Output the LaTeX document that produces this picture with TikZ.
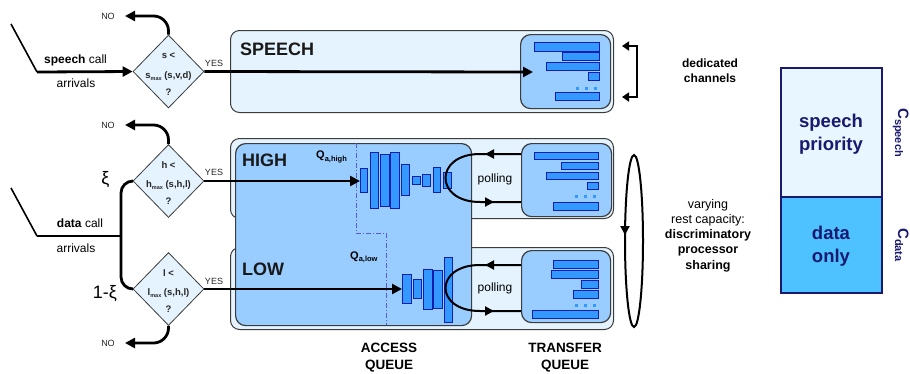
\documentclass[tikz,border=0pt]{standalone}
\usepackage{fontspec}
\setmainfont{Liberation Sans}
\usetikzlibrary{shapes.geometric,arrows.meta}
\definecolor{lightbg}{RGB}{228,243,253}
\definecolor{midblue}{RGB}{153,204,255}
\definecolor{barfill}{RGB}{51,153,255}
\definecolor{baredge}{RGB}{20,30,170}
\definecolor{captop}{RGB}{232,246,255}
\definecolor{capbot}{RGB}{77,194,255}
\definecolor{navy}{RGB}{25,25,112}
\definecolor{dashblue}{RGB}{90,90,220}
\definecolor{edgegray}{RGB}{60,60,60}
\newcommand\fsz[1]{\fontsize{#1}{#1}\selectfont}
\begin{document}
\begin{tikzpicture}[x=1pt,y=-1pt,
  region/.style={draw=edgegray, line width=1pt, fill=lightbg, rounded corners=9pt, inner sep=0pt, anchor=north west},
  tqbox/.style={draw=edgegray, line width=1.2pt, fill=midblue, rounded corners=10pt, inner sep=0pt, anchor=north west},
  dia/.style={diamond, draw=edgegray, line width=0.8pt, fill=lightbg, minimum width=71pt, minimum height=73pt, inner sep=0pt},
  bigarrow/.style={line width=2.8pt, -{Triangle[length=10pt,width=10pt]}},
  smallarrow/.style={line width=2.4pt, -{Triangle[length=7pt,width=9pt]}},
  feed/.style={line width=1.6pt},
  flow/.style={line width=2.8pt},
  polline/.style={line width=2pt},
  polarrow/.style={line width=2pt, -{Triangle[length=9pt,width=9pt]}},
  qbar/.style={draw=baredge, line width=0.8pt, fill=barfill},
  qdot/.style={fill=barfill},
  lbl/.style={inner sep=0pt, font=\fsz{9}, text=black!85},
  dtxt/.style={inner sep=0pt, font=\bfseries\fsz{9.5}, text=black!85},
  title/.style={inner sep=0pt, anchor=west, font=\bfseries\fsz{18}, text=black!90},
  captxt/.style={inner sep=0pt, align=center, text=navy, font=\bfseries\fontsize{18.5}{23}\selectfont},
  capbox/.style={draw=navy, line width=1.4pt}
]
\useasboundingbox (0,0) rectangle (910,373);

% ---------- regions ----------
\node[region, minimum width=383pt, minimum height=80pt] (hreg) at (230,138) {};
\node[region, minimum width=383pt, minimum height=82pt] (lreg) at (230,247) {};
\node[region, minimum width=383pt, minimum height=82pt] (sreg) at (230,30) {};
\node[tqbox, minimum width=236pt, minimum height=182pt] (acc) at (235,143) {};
\node[tqbox, minimum width=90pt, minimum height=74pt] (tqs) at (520,34) {};
\node[tqbox, minimum width=90pt, minimum height=73pt] (tqh) at (521,143) {};
\node[tqbox, minimum width=89pt, minimum height=72pt] (tql) at (521,250) {};

\node[title] (tspeech) at (240,49) {SPEECH};
\node[title] (thigh) at (242,160) {HIGH};
\node[title] (tlow) at (242,269) {LOW};

% dash-dot separation
\draw[dashblue, line width=1pt, dash pattern=on 5pt off 2pt on 1pt off 2pt] (356,143) -- (356,233) -- (386,233) -- (386,325);
\node[inner sep=0pt, anchor=west, font=\bfseries\fsz{11}] (qah) at (316,157) {Q\raisebox{-0.4ex}{\fsz{7.5}a,high}};
\node[inner sep=0pt, anchor=west, font=\bfseries\fsz{11}] (qal) at (350,257) {Q\raisebox{-0.4ex}{\fsz{7.5}a,low}};

% ---------- transfer queue bars ----------
\draw[qbar] (534,42) rectangle (599,51);
\draw[qbar] (562,52) rectangle (599,60);
\draw[qbar] (546,62) rectangle (599,70);
\draw[qbar] (588,72) rectangle (599,80);
\foreach \x in {576,585,594} \fill[qdot] (\x,86.5) rectangle ++(3,3);
\draw[qbar] (555,92) rectangle (599,100);

\draw[qbar] (534,152) rectangle (598,159);
\draw[qbar] (561,162) rectangle (598,169);
\draw[qbar] (546,172) rectangle (598,179);
\draw[qbar] (587,182) rectangle (598,189);
\foreach \x in {575,584,593} \fill[qdot] (\x,194.5) rectangle ++(3,3);
\draw[qbar] (553,202) rectangle (598,210);

\draw[qbar] (553,260) rectangle (598,268);
\draw[qbar] (551,270) rectangle (598,278);
\draw[qbar] (581,280) rectangle (598,288);
\draw[qbar] (573,290) rectangle (598,298);
\foreach \x in {575,584,593} \fill[qdot] (\x,303.5) rectangle ++(3,3);
\draw[qbar] (532,310) rectangle (598,318);

% ---------- access queue bars ----------
\draw[qbar] (360,168) rectangle (367,192);
\draw[qbar] (370.5,152) rectangle (378.5,208);
\draw[qbar] (380.5,154) rectangle (389,206);
\draw[qbar] (390.5,152) rectangle (399,208);
\draw[qbar] (401.5,164) rectangle (409.5,195);
\draw[qbar] (412,176) rectangle (420,184);
\draw[qbar] (422,174) rectangle (430.5,186);
\draw[qbar] (433,167) rectangle (440.5,192);
\draw[qbar] (443,172) rectangle (451.5,188);

\draw[qbar] (402,274) rectangle (411,303);
\draw[qbar] (413,279) rectangle (421,298);
\draw[qbar] (423,269) rectangle (432,309);
\draw[qbar] (433,270) rectangle (442,308);
\draw[qbar] (444,257) rectangle (452,322);

\coordinate (hq) at (360,181);
\coordinate (lq) at (402,289);
\coordinate (sq) at (533,72);

% ---------- polling loops ----------
\draw[polline] (tqh.west |- 0,154) -- (480,154) .. controls (434,154) and (434,202) .. (480,202) -- (tqh.west |- 0,202);
\draw[polarrow] (500,154) -- (485,154);
\draw[polarrow] (480,202) -- (494,202);
\node[inner sep=0pt, font=\fsz{12}] (polh) at (495,179) {polling};

\draw[polline] (tql.west |- 0,265) -- (480,265) .. controls (434,265) and (434,311) .. (480,311) -- (tql.west |- 0,311);
\draw[polarrow] (500,265) -- (485,265);
\draw[polarrow] (480,311) -- (494,311);
\node[inner sep=0pt, font=\fsz{12}] (poll) at (495,288) {polling};

\node[inner sep=0pt, align=center, font=\bfseries\fontsize{13.5}{17}\selectfont] (accl) at (389,358) {ACCESS\\QUEUE};
\node[inner sep=0pt, align=center, font=\bfseries\fontsize{13.5}{17}\selectfont] (tqlbl) at (565,358) {TRANSFER\\QUEUE};

% ---------- diamonds ----------
\node[dia] (sd) at (168.5,71.5) {};
\node[dia] (hd) at (168.5,181) {};
\node[dia] (ld) at (168.5,289) {};

\node[dtxt] (sd1) at (168.5,56) {s <};
\node[dtxt] (sd2) at (168.5,76) {s\raisebox{-0.35ex}{\fsz{5.5}max} (s,v,d)};
\node[dtxt] (sd3) at (168.5,92) {?};
\node[dtxt] (hd1) at (168.5,165) {h <};
\node[dtxt] (hd2) at (168.5,185) {h\raisebox{-0.35ex}{\fsz{5.5}max} (s,h,l)};
\node[dtxt] (hd3) at (168.5,201) {?};
\node[dtxt] (ld1) at (168.5,273) {l <};
\node[dtxt] (ld2) at (168.5,293) {l\raisebox{-0.35ex}{\fsz{5.5}max} (s,h,l)};
\node[dtxt] (ld3) at (168.5,309) {?};

\node[lbl] (yes1) at (214,63) {YES};
\node[lbl] (yes2) at (214,172) {YES};
\node[lbl] (yes3) at (214,281) {YES};

% NO branches
\coordinate (sno) at (125,16);
\coordinate (hno) at (125,125);
\coordinate (lno) at (125,343);
\node[lbl] (no1) at (108,16) {NO};
\node[lbl] (no2) at (108,125) {NO};
\node[lbl] (no3) at (108,343) {NO};
\draw[bigarrow, rounded corners=15pt] (sd.north) |- (sno);
\draw[bigarrow, rounded corners=15pt] (hd.north) |- (hno);
\draw[bigarrow, rounded corners=15pt] (ld.south) |- (lno);

% YES flows
\draw[bigarrow] (sd.east) -- (sq);
\draw[bigarrow] (hd.east) -- (hq);
\draw[bigarrow] (ld.east) -- (lq);

% arrivals
\coordinate (s0) at (11,24);
\coordinate (s1) at (37,72);
\draw[feed] (s0) -- (s1);
\draw[bigarrow] (s1) -- (sd.west);
\node[inner sep=0pt, font=\fsz{12}] (spt) at (75.5,60) {\textbf{speech} call};
\node[inner sep=0pt, font=\fsz{12}] (spa) at (76,83) {arrivals};

\coordinate (d0) at (11,188);
\coordinate (d1) at (37,236);
\coordinate (d2) at (121,236);
\draw[feed] (d0) -- (d1);
\draw[flow] (d1) -- (d2);
\draw[flow, rounded corners=12pt] (hd.west) -- (121,181) -- (121,289) -- (ld.west);
\node[inner sep=0pt, font=\fsz{12}] (dat) at (80,223) {\textbf{data} call};
\node[inner sep=0pt, font=\fsz{12}] (daa) at (76,248) {arrivals};
\node[inner sep=0pt, font=\fsz{18}] (xi) at (105.5,180) {ξ};
\node[inner sep=0pt, font=\fsz{18}] (xi2) at (105,294) {1-ξ};

% ---------- dedicated channels ----------
\coordinate (dc1) at (637,46);
\coordinate (dc2) at (637,97);
\coordinate (dc1t) at (622,46);
\coordinate (dc2t) at (622,97);
\draw[line width=2.4pt] (dc1) -- (dc2);
\draw[smallarrow] ([xshift=1.2pt]dc1) -- (dc1t);
\draw[smallarrow] ([xshift=1.2pt]dc2) -- (dc2t);
\node[inner sep=0pt, align=center, font=\bfseries\fontsize{12}{15}\selectfont] (dct) at (710,70.5) {dedicated\\channels};

% ---------- varying rest capacity ----------
\draw[line width=2pt] (634,241) ellipse [x radius=9, y radius=86];
\draw[line width=2pt, -{Triangle[length=9pt,width=9pt]}] (625,220) -- (625,235);
\node[inner sep=0pt, align=center, font=\fontsize{12.5}{15.25}\selectfont] (vrc) at (708,235.5) {varying\\rest capacity:\\\textbf{discriminatory}\\\textbf{processor}\\\textbf{sharing}};

% ---------- capacity bar ----------
\draw[capbox, fill=captop] (781,68) rectangle (882,197);
\draw[capbox, fill=capbot] (781,197) rectangle (882,293);
\node[captxt] (spp) at (831,134) {speech\\priority};
\node[captxt] (dao) at (831,246) {data\\only};
\node[rotate=-90, anchor=base west, inner sep=0pt, text=navy, font=\bfseries] (cs) at (898,108) {\fsz{15}C\raisebox{-3pt}{\fsz{11}speech}};
\node[rotate=-90, anchor=base west, inner sep=0pt, text=navy, font=\bfseries] (cd) at (898,228) {\fsz{15}C\raisebox{-3pt}{\fsz{11}data}};
\end{tikzpicture}
\end{document}
